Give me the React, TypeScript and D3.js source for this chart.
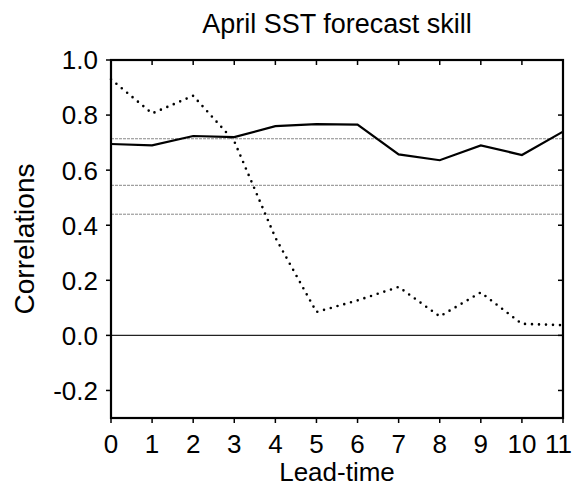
import React, { useRef, useEffect } from "react";
import * as d3 from "d3";

const WIDTH = 575;
const HEIGHT = 489;
const MARGIN = { top: 60, right: 12, bottom: 71, left: 111 };

const leadTimes = [0, 1, 2, 3, 4, 5, 6, 7, 8, 9, 10, 11];
// solid line
const skillSolid = [0.695, 0.69, 0.724, 0.72, 0.76, 0.767, 0.765, 0.657, 0.636, 0.69, 0.655, 0.74];
// dotted line
const skillDotted = [0.93, 0.806, 0.87, 0.705, 0.355, 0.085, 0.127, 0.176, 0.069, 0.156, 0.042, 0.037];
// significance levels (thin grey lines)
const refLevels = [0.714, 0.545, 0.44];
const yTicks = [-0.2, 0, 0.2, 0.4, 0.6, 0.8, 1.0];

const FONT = "'Liberation Sans', Arial, Helvetica, sans-serif";

export default function App() {
  const svgRef = useRef<SVGSVGElement | null>(null);

  useEffect(() => {
    const svg = d3.select(svgRef.current);
    svg.selectAll("*").remove();

    const x = d3
      .scaleLinear()
      .domain([0, 11])
      .range([MARGIN.left, WIDTH - MARGIN.right]);
    const y = d3
      .scaleLinear()
      .domain([-0.3, 1.0])
      .range([HEIGHT - MARGIN.bottom, MARGIN.top]);

    const x0 = x(0), x1 = x(11), y0 = y(-0.3), y1 = y(1.0);

    // reference lines
    svg
      .selectAll(".ref")
      .data(refLevels)
      .enter()
      .append("line")
      .attr("x1", x0)
      .attr("x2", x1)
      .attr("y1", (d) => y(d))
      .attr("y2", (d) => y(d))
      .attr("stroke", "#888")
      .attr("stroke-width", 1)
      .attr("stroke-dasharray", "3 1");

    // zero line
    svg
      .append("line")
      .attr("x1", x0)
      .attr("x2", x1)
      .attr("y1", y(0))
      .attr("y2", y(0))
      .attr("stroke", "#222")
      .attr("stroke-width", 1.2);

    const line = d3
      .line<number>()
      .x((_, i) => x(leadTimes[i]))
      .y((d) => y(d));

    svg
      .append("path")
      .datum(skillSolid)
      .attr("fill", "none")
      .attr("stroke", "#000")
      .attr("stroke-width", 2.2)
      .attr("d", line);

    svg
      .append("path")
      .datum(skillDotted)
      .attr("fill", "none")
      .attr("stroke", "#000")
      .attr("stroke-width", 2.6)
      .attr("stroke-linecap", "round")
      .attr("stroke-dasharray", "0 7")
      .attr("d", line);

    // ticks
    const tick = 5;
    const g = svg.append("g").attr("stroke", "#000").attr("stroke-width", 1.5);
    leadTimes.forEach((t) => {
      g.append("line").attr("x1", x(t)).attr("x2", x(t)).attr("y1", y0).attr("y2", y0 + tick);
      g.append("line").attr("x1", x(t)).attr("x2", x(t)).attr("y1", y1).attr("y2", y1 + tick);
    });
    yTicks.forEach((v) => {
      g.append("line").attr("x1", x0 - tick).attr("x2", x0).attr("y1", y(v)).attr("y2", y(v));
      g.append("line").attr("x1", x1 - tick).attr("x2", x1).attr("y1", y(v)).attr("y2", y(v));
    });

    // frame
    svg
      .append("rect")
      .attr("x", x0)
      .attr("y", y1)
      .attr("width", x1 - x0)
      .attr("height", y0 - y1)
      .attr("fill", "none")
      .attr("stroke", "#000")
      .attr("stroke-width", 2.2);

    // tick labels (last one pulled in to stay on the page)
    const last = leadTimes[leadTimes.length - 1];
    svg
      .selectAll(".xl")
      .data(leadTimes)
      .enter()
      .append("text")
      .attr("x", (d) => (d === last ? WIDTH - 3 : x(d)))
      .attr("y", 453)
      .attr("text-anchor", (d) => (d === last ? "end" : "middle"))
      .attr("font-family", FONT)
      .attr("font-size", 26)
      .text((d) => String(d));

    svg
      .selectAll(".yl")
      .data(yTicks)
      .enter()
      .append("text")
      .attr("x", x0 - 13)
      .attr("y", (d) => y(d))
      .attr("dy", "0.36em")
      .attr("text-anchor", "end")
      .attr("font-family", FONT)
      .attr("font-size", 26)
      .text((d) => d.toFixed(1));

    // title and axis labels
    svg
      .append("text")
      .attr("x", (x0 + x1) / 2)
      .attr("y", 33)
      .attr("text-anchor", "middle")
      .attr("font-family", FONT)
      .attr("font-size", 27)
      .text("April SST forecast skill");

    svg
      .append("text")
      .attr("x", (x0 + x1) / 2)
      .attr("y", 481)
      .attr("text-anchor", "middle")
      .attr("font-family", FONT)
      .attr("font-size", 26)
      .text("Lead-time");

    svg
      .append("text")
      .attr("transform", `translate(34,${(y0 + y1) / 2}) rotate(-90)`)
      .attr("text-anchor", "middle")
      .attr("font-family", FONT)
      .attr("font-size", 28)
      .text("Correlations");
  }, []);

  return (
    <svg
      ref={svgRef}
      width={WIDTH}
      height={HEIGHT}
      style={{ position: "absolute", left: 0, top: 0, background: "#fff" }}
    />
  );
}
